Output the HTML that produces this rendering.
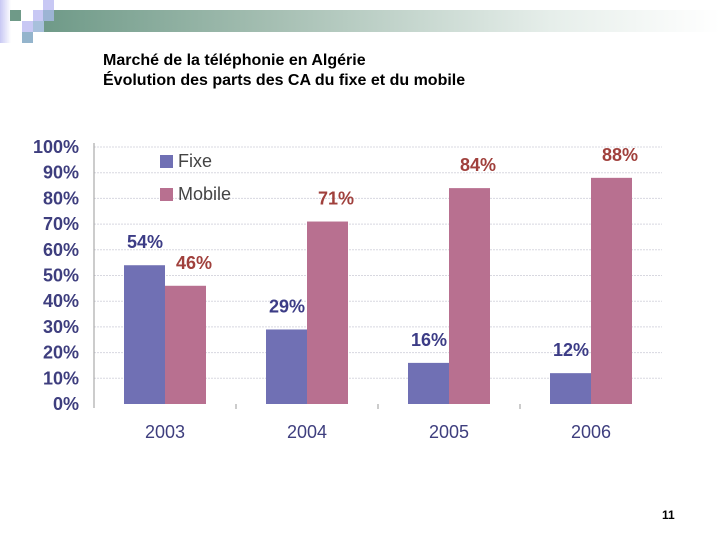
<!DOCTYPE html>
<html><head><meta charset="utf-8"><style>
body{margin:0;width:720px;height:540px;background:#fff;position:relative;overflow:hidden;font-family:"Liberation Sans",sans-serif}
.sq{position:absolute;width:11px;height:11px}
.title{position:absolute;left:103px;font-weight:bold;font-size:16px;color:#000}
</style></head><body>
<div style="position:absolute;left:44px;top:10px;width:676px;height:22px;background:linear-gradient(90deg,#6f9a88,#a7c0b4 35%,#e6eeea 75%,#fff)"></div>
<div style="position:absolute;left:0;top:0;width:11px;height:43px;background:linear-gradient(90deg,#c8c8f4,#fff)"></div>
<div class="sq" style="left:10px;top:10px;background:#6f9a88"></div>
<div class="sq" style="left:33px;top:10px;background:#c8c8f4"></div>
<div class="sq" style="left:43px;top:0;background:#c8c8f4"></div>
<div class="sq" style="left:43px;top:10px;background:#9cb4d4"></div>
<div class="sq" style="left:22px;top:21px;background:#c8c8f4"></div>
<div class="sq" style="left:33px;top:21px;background:#a8c0dc"></div>
<div class="sq" style="left:22px;top:32px;background:#94b4cc"></div>
<div class="title" style="top:52px">Marché de la téléphonie en Algérie</div>
<div class="title" style="top:72px">Évolution des parts des CA du fixe et du mobile</div>
<svg id="c" width="720" height="540" style="position:absolute;left:0;top:0"></svg>
<div style="position:absolute;left:662px;top:508px;font-size:12px;font-weight:bold">11</div>
<script>
const categories=["2003","2004","2005","2006"];
const fixeValues=[54,29,16,12];
const mobileValues=[46,71,84,88];
const yTicks=[0,10,20,30,40,50,60,70,80,90,100];
const svg=document.getElementById('c');const NS="http://www.w3.org/2000/svg";
const y0=404,y100=147;
function y(v){return y0-(y0-y100)*v/100;}
function xc(i){return 165+i*142;}
function mk(t,a,txt){const e=document.createElementNS(NS,t);for(const k in a)e.setAttribute(k,a[k]);if(txt!==undefined)e.textContent=txt;svg.appendChild(e);return e;}
yTicks.forEach(v=>{
 if(v>0){const g=mk('line',{x1:94,x2:662,y1:y(v),y2:y(v),stroke:'#d8d8e0','stroke-width':1,'stroke-dasharray':'2,1'});
 }
 const t=mk('text',{x:79,y:y(v)+6,'text-anchor':'end','font-size':18,'font-weight':'bold',fill:'#3e3e7e','font-family':'Liberation Sans, sans-serif'},v+'%');
 
});
const ax=mk('line',{x1:94,x2:94,y1:143,y2:408,stroke:'#999','stroke-width':1});

[236,378,520].forEach(x=>{const t=mk('line',{x1:x,x2:x,y1:404,y2:409,stroke:'#999'});});
categories.forEach((c,i)=>{
 const cx=xc(i);
 const b1=mk('rect',{x:cx-41,y:y(fixeValues[i]),width:41,height:y0-y(fixeValues[i]),fill:'#7070b4'});
 
 const b2=mk('rect',{x:cx,y:y(mobileValues[i]),width:41,height:y0-y(mobileValues[i]),fill:'#b87090'});
 
 const l1=mk('text',{x:cx-20,y:y(fixeValues[i])-17,'text-anchor':'middle','font-size':18,'font-weight':'bold',fill:'#3c3c86','font-family':'Liberation Sans, sans-serif'},fixeValues[i]+'%');
 
 const l2=mk('text',{x:cx+29,y:y(mobileValues[i])-17,'text-anchor':'middle','font-size':18,'font-weight':'bold',fill:'#a0403c','font-family':'Liberation Sans, sans-serif'},mobileValues[i]+'%');
 
 const xl=mk('text',{x:cx,y:438,'text-anchor':'middle','font-size':18,fill:'#3e3e7e','font-family':'Liberation Sans, sans-serif'},c);
 
});
const lg1=mk('rect',{x:160,y:155,width:13,height:13,fill:'#7070b4'});
const lt1=mk('text',{x:178,y:167,'font-size':18,fill:'#444','font-family':'Liberation Sans, sans-serif'},'Fixe');
const lg2=mk('rect',{x:160,y:188,width:13,height:13,fill:'#b87090'});
const lt2=mk('text',{x:178,y:200,'font-size':18,fill:'#444','font-family':'Liberation Sans, sans-serif'},'Mobile');
</script>
</body></html>
